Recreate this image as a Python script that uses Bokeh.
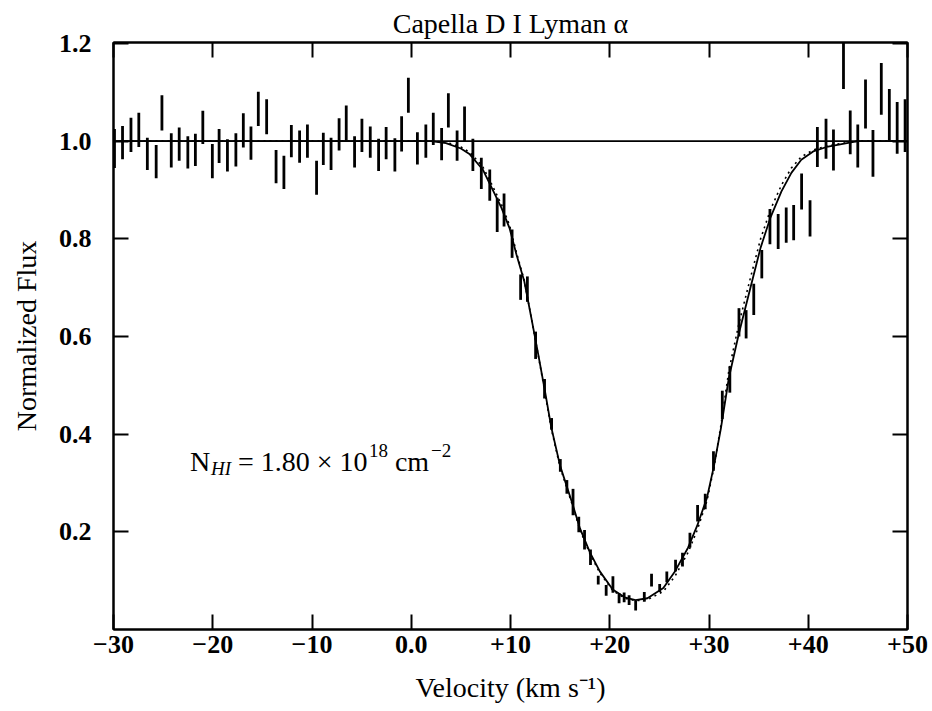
from bokeh.plotting import figure
from bokeh.models import LinearAxis, FixedTicker, Range1d
from bokeh.core.properties import value
from bokeh.embed import file_html
from bokeh.resources import INLINE

# ---- data ----
vel = [-29.90, -29.09, -28.24, -27.45, -26.59, -25.70, -25.12, -24.18, -23.38, -22.51,
       -21.75, -21.00, -20.04, -19.36, -18.52, -17.67, -16.92, -16.15, -15.41, -14.57,
       -13.62, -12.83, -12.08, -11.25, -10.46, -9.54, -8.86, -8.08, -7.27, -6.55,
       -5.71, -4.97, -4.13, -3.29, -2.53, -1.65, -0.97, -0.29, 0.62, 1.47,
       2.22, 3.06, 3.74, 4.62, 5.37, 6.21, 7.06, 7.91, 8.66, 9.35,
       10.16, 11.02, 11.70, 12.53, 13.43, 14.14, 15.02, 15.68, 16.30, 16.88,
       17.46, 18.06, 18.84, 19.64, 20.32, 20.94, 21.45, 21.95, 22.61, 23.48,
       24.21, 25.03, 25.75, 26.63, 27.33, 28.08, 28.85, 29.62, 30.45, 31.34,
       32.10, 33.02, 33.74, 34.51, 35.32, 36.14, 36.97, 37.78, 38.53, 39.33,
       40.18, 40.92, 41.79, 42.54, 43.55, 44.23, 44.99, 45.77, 46.52, 47.36,
       48.17, 48.96, 49.76]
flux = [0.985, 0.997, 1.013, 1.023, 0.974, 0.958, 1.058, 0.981, 0.994, 0.977,
        0.982, 1.028, 0.959, 0.990, 0.971, 0.982, 1.022, 0.996, 1.066, 1.050,
        0.948, 0.936, 1.000, 0.989, 1.000, 0.925, 0.984, 0.974, 1.014, 1.037,
        0.978, 1.012, 0.998, 0.972, 0.996, 0.972, 1.015, 1.094, 0.985, 1.000,
        1.025, 0.994, 1.063, 0.991, 1.035, 0.972, 0.934, 0.910, 0.849, 0.859,
        0.790, 0.701, 0.697, 0.582, 0.493, 0.421, 0.336, 0.292, 0.261, 0.215,
        0.184, 0.148, 0.101, 0.080, 0.092, 0.064, 0.066, 0.060, 0.049, 0.067,
        0.101, 0.085, 0.108, 0.131, 0.143, 0.183, 0.238, 0.262, 0.345, 0.460,
        0.512, 0.629, 0.625, 0.676, 0.748, 0.825, 0.815, 0.828, 0.833, 0.897,
        0.842, 0.988, 1.005, 0.982, 1.156, 1.018, 0.990, 1.076, 0.975, 1.107,
        1.054, 1.027, 1.032]
err = [0.040, 0.034, 0.035, 0.035, 0.033, 0.034, 0.036, 0.035, 0.034, 0.033,
       0.033, 0.034, 0.035, 0.035, 0.033, 0.034, 0.035, 0.034, 0.035, 0.036,
       0.034, 0.034, 0.033, 0.033, 0.034, 0.035, 0.033, 0.033, 0.033, 0.036,
       0.032, 0.034, 0.032, 0.033, 0.033, 0.034, 0.036, 0.036, 0.033, 0.034,
       0.033, 0.033, 0.035, 0.031, 0.036, 0.033, 0.032, 0.032, 0.035, 0.034,
       0.029, 0.026, 0.026, 0.028, 0.020, 0.012, 0.013, 0.014, 0.027, 0.016,
       0.020, 0.016, 0.009, 0.011, 0.017, 0.010, 0.010, 0.010, 0.010, 0.010,
       0.013, 0.008, 0.011, 0.012, 0.014, 0.015, 0.017, 0.016, 0.020, 0.029,
       0.027, 0.029, 0.029, 0.032, 0.029, 0.036, 0.036, 0.036, 0.036, 0.037,
       0.037, 0.041, 0.041, 0.042, 0.049, 0.045, 0.044, 0.050, 0.048, 0.053,
       0.053, 0.053, 0.054]

# fitted profile (solid) and alternative fit (dotted)
fit_vel = [-30.0, 2.0, 3.5, 5.0, 5.9, 7.2, 8.1, 9.1, 9.9, 10.6,
           11.4, 12.1, 12.8, 13.5, 14.1, 15.0, 16.2, 17.0, 18.0, 19.0,
           20.3, 21.5, 22.6, 23.8, 25.4, 26.6, 27.9, 28.8, 29.8, 30.5,
           31.2, 32.0, 33.0, 34.2, 35.2, 36.2, 37.3, 38.3, 39.3, 40.5,
           42.0, 43.9, 45.0, 50.0]
fit_flux = [1.0, 1.0, 0.996, 0.985, 0.973, 0.942, 0.905, 0.863, 0.822, 0.768,
            0.712, 0.638, 0.563, 0.485, 0.415, 0.335, 0.260, 0.207, 0.158, 0.119,
            0.082, 0.066, 0.060, 0.064, 0.085, 0.120, 0.168, 0.212, 0.270, 0.335,
            0.412, 0.515, 0.605, 0.702, 0.782, 0.844, 0.897, 0.935, 0.962, 0.979,
            0.989, 0.996, 1.0, 1.0]
alt_flux = [1.0, 1.0, 0.998, 0.988, 0.977, 0.948, 0.912, 0.870, 0.828, 0.772,
            0.714, 0.638, 0.561, 0.482, 0.412, 0.332, 0.257, 0.204, 0.155, 0.116,
            0.080, 0.064, 0.059, 0.061, 0.078, 0.110, 0.158, 0.203, 0.264, 0.332,
            0.418, 0.530, 0.625, 0.722, 0.800, 0.860, 0.910, 0.945, 0.968, 0.982,
            0.991, 0.997, 1.0, 1.0]

cont_vel = [-30.0, 50.0]
cont_flux = [1.0, 1.0]

x_ticks = [-30, -20, -10, 0, 10, 20, 30, 40, 50]
x_tick_labels = ["\u221230", "\u221220", "\u221210", "0.0", "+10", "+20", "+30", "+40", "+50"]
y_ticks = [0.2, 0.4, 0.6, 0.8, 1.0, 1.2]
y_tick_labels = ["0.2", "0.4", "0.6", "0.8", "1.0", "1.2"]
title_text = "Capella D I Lyman \u03b1"

SERIF = "Liberation Serif"

p = figure(width=932, height=711, output_backend="svg", toolbar_location=None,
           x_range=Range1d(-30, 50), y_range=Range1d(0, 1.202),
           min_border_left=113, min_border_right=25, min_border_top=42, min_border_bottom=82,
           title=title_text)
p.background_fill_color = "white"
p.border_fill_color = "white"
p.outline_line_color = "black"
p.outline_line_width = 2
p.xgrid.visible = False
p.ygrid.visible = False

p.title.align = "center"
p.title.text_font = SERIF
p.title.text_font_style = "normal"
p.title.text_font_size = "28px"
p.title.text_color = "black"
p.title.standoff = 8

def style_axis(ax, ticks, labels, show):
    ax.ticker = FixedTicker(ticks=ticks)
    ax.major_label_overrides = {t: (l if show else "") for t, l in zip(ticks, labels)}
    ax.minor_tick_line_color = None
    ax.major_tick_in = 15
    ax.major_tick_out = 0
    ax.major_tick_line_width = 2
    ax.major_tick_line_color = "black"
    ax.axis_line_color = "black"
    ax.axis_line_width = 2
    ax.major_label_text_font = SERIF
    ax.major_label_text_font_size = "26px"
    ax.major_label_text_font_style = "bold"
    ax.major_label_text_color = "black"
    ax.axis_label_text_font = SERIF
    ax.axis_label_text_font_size = "28px"
    ax.axis_label_text_font_style = "normal"
    ax.axis_label_text_color = "black"

xb = p.xaxis[0]
style_axis(xb, x_ticks, x_tick_labels, True)
xb.axis_label = "Velocity (km s\u207b\u00b9)"
xb.major_label_standoff = 6
xb.axis_label_standoff = 16

yl = p.yaxis[0]
style_axis(yl, y_ticks, y_tick_labels, True)
yl.axis_label = "Normalized Flux"
yl.major_label_standoff = 22
yl.axis_label_standoff = 14

xt = LinearAxis()
style_axis(xt, x_ticks, x_tick_labels, False)
p.add_layout(xt, "above")
yr = LinearAxis()
style_axis(yr, y_ticks, y_tick_labels, False)
p.add_layout(yr, "right")

# continuum line
p.line(cont_vel, cont_flux, line_color="black", line_width=1.6)
# fits
p.line(fit_vel, alt_flux, line_color="black", line_width=1.6, line_dash="2 4")
p.line(fit_vel, fit_flux, line_color="black", line_width=1.8)
# error bars
lo = [f - e for f, e in zip(flux, err)]
hi = [f + e for f, e in zip(flux, err)]
p.segment(x0=vel, y0=lo, x1=vel, y1=hi, line_color="black", line_width=2.8)

# annotation N_HI = 1.80 x 10^18 cm^-2
ax0, ay0 = -22.3, 0.345
pieces = [
    ("N", 0, 0, "28px", "normal"),
    ("HI", 21, 7, "19px", "italic"),
    ("= 1.80 \u00d7 10", 48, 0, "28px", "normal"),
    ("18", 179, -11, "19px", "normal"),
    ("cm", 205, 0, "28px", "normal"),
    ("\u22122", 241, -11, "19px", "normal"),
]
for txt, dx, dy, size, style in pieces:
    p.text(x=[ax0], y=[ay0], text=[txt], x_offset=dx, y_offset=dy,
           text_font=value(SERIF), text_font_size=size, text_font_style=style,
           text_align="left", text_baseline="middle", text_color="black")

open("out.html", "w").write(file_html(p, INLINE))
